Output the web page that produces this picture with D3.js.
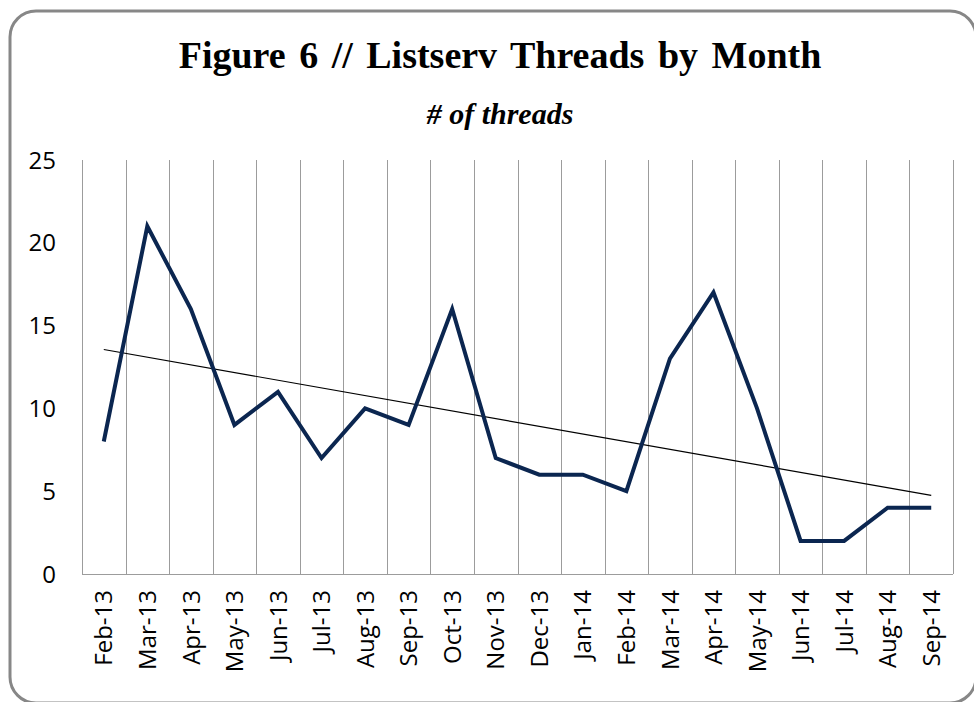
<!DOCTYPE html>
<html>
<head>
<meta charset="utf-8">
<script src="https://cdn.jsdelivr.net/npm/d3@7"></script>
<style>
  body { margin: 0; background: #fff; }
  svg { display: block; }
</style>
</head>
<body>
<div id="chart"></div>
<script>
var months = ["Feb-13", "Mar-13", "Apr-13", "May-13", "Jun-13", "Jul-13", "Aug-13", "Sep-13", "Oct-13", "Nov-13",
    "Dec-13", "Jan-14", "Feb-14", "Mar-14", "Apr-14", "May-14", "Jun-14", "Jul-14", "Aug-14", "Sep-14"];
var threads = [8, 21, 16, 9, 11, 7, 10, 9, 16, 7, 6, 6, 5, 13, 17, 10, 2, 2, 4, 4];
var yTicks = [0, 5, 10, 15, 20, 25];
var titleText = "Figure 6 // Listserv Threads by Month";
var subtitleText = "# of threads";

var width = 974, height = 702;
var margin = {left: 82, right: 21, top: 160, bottom: 128};

var svg = d3.select("#chart").append("svg")
    .attr("width", width)
    .attr("height", height);

// outer frame
svg.append("rect")
    .attr("x", 10).attr("y", 11)
    .attr("width", 966).attr("height", 692)
    .attr("rx", 26).attr("ry", 26)
    .style("fill", "none")
    .style("stroke", "#878787")
    .style("stroke-width", 3);

svg.append("text")
    .attr("x", 500).attr("y", 68)
    .attr("text-anchor", "middle")
    .style("font-family", "'Liberation Serif', 'Times New Roman', serif")
    .style("font-weight", "bold")
    .style("font-size", "38px")
    .style("word-spacing", "4px")
    .text(titleText);

svg.append("text")
    .attr("x", 500).attr("y", 124)
    .attr("text-anchor", "middle")
    .style("font-family", "'Liberation Serif', 'Times New Roman', serif")
    .style("font-weight", "bold")
    .style("font-style", "italic")
    .style("font-size", "30px")
    .text(subtitleText);

var x = d3.scaleBand()
    .domain(months)
    .range([margin.left, width - margin.right])
    .padding(0);

var y = d3.scaleLinear()
    .domain([0, 25])
    .range([height - margin.bottom, margin.top]);

// vertical gridlines at category boundaries
var bounds = months.map(function(m) { return x(m); });
bounds.push(x(months[months.length - 1]) + x.bandwidth());
svg.append("g").selectAll("line")
    .data(bounds)
    .enter()
    .append("line")
    .attr("x1", function(d) { return Math.round(d) + 0.5; })
    .attr("x2", function(d) { return Math.round(d) + 0.5; })
    .attr("y1", y(25))
    .attr("y2", y(0))
    .style("stroke", "#9c9c9c")
    .style("stroke-width", 1);

// x axis line
svg.append("line")
    .attr("x1", x.range()[0]).attr("x2", x.range()[1])
    .attr("y1", Math.round(y(0)) + 0.5).attr("y2", Math.round(y(0)) + 0.5)
    .style("stroke", "#9c9c9c");

// y tick labels
svg.append("g").selectAll("text")
    .data(yTicks)
    .enter()
    .append("text")
    .attr("x", 56)
    .attr("y", function(d) { return y(d); })
    .attr("dy", "0.36em")
    .attr("text-anchor", "end")
    .style("font-family", "'Open Sans', sans-serif")
    .style("font-size", "24px")
    .style("fill", "#000")
    .text(function(d) { return d; });

// x tick labels, rotated
svg.append("g").selectAll("text")
    .data(months)
    .enter()
    .append("text")
    .attr("transform", function(d) {
        return "translate(" + (x(d) + x.bandwidth() / 2) + "," + 590 + ") rotate(-90)";
    })
    .attr("dy", "0.36em")
    .attr("text-anchor", "end")
    .style("font-family", "'Open Sans', sans-serif")
    .style("font-size", "24px")
    .style("fill", "#000")
    .text(function(d) { return d; });

// linear trend line (least squares)
var n = threads.length;
var mx = d3.mean(threads, function(d, i) { return i; });
var my = d3.mean(threads);
var sxy = d3.sum(threads, function(d, i) { return (i - mx) * (d - my); });
var sxx = d3.sum(threads, function(d, i) { return (i - mx) * (i - mx); });
var slope = sxy / sxx;
var intercept = my - slope * mx;
var cx = function(i) { return x(months[i]) + x.bandwidth() / 2; };

svg.append("line")
    .attr("x1", cx(0)).attr("y1", y(intercept))
    .attr("x2", cx(n - 1)).attr("y2", y(intercept + slope * (n - 1)))
    .style("stroke", "#000")
    .style("stroke-width", 1.2);

var line = d3.line()
    .x(function(d, i) { return cx(i); })
    .y(function(d) { return y(d); });

svg.append("path")
    .datum(threads)
    .attr("d", line)
    .style("fill", "none")
    .style("stroke", "#0b2650")
    .style("stroke-width", 4)
    .style("stroke-linejoin", "miter");
</script>
</body>
</html>
